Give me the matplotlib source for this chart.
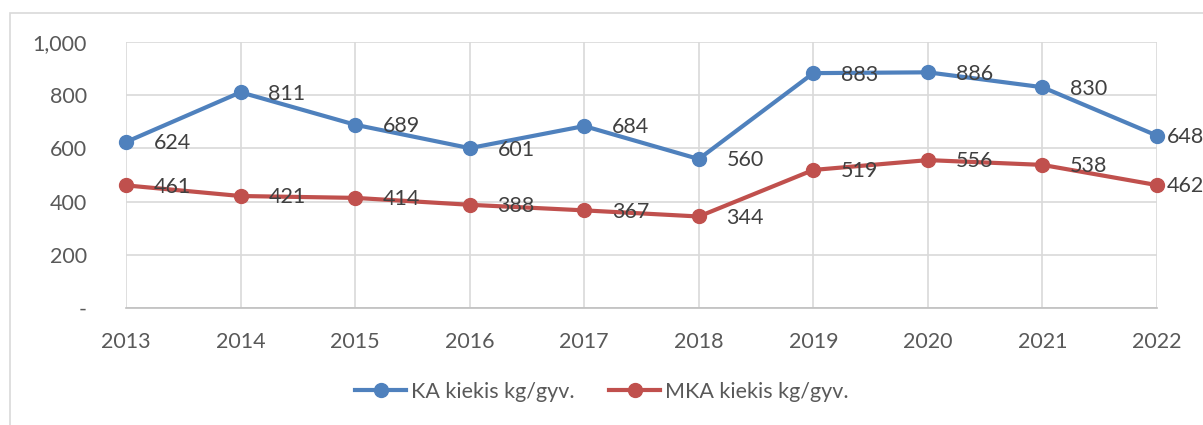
import matplotlib
matplotlib.use("Agg")
import matplotlib.pyplot as plt
from matplotlib.patches import Rectangle
from matplotlib.ticker import FuncFormatter

years = ["2013", "2014", "2015", "2016", "2017", "2018", "2019", "2020", "2021", "2022"]
ka = [624, 811, 689, 601, 684, 560, 883, 886, 830, 648]
mka = [461, 421, 414, 388, 367, 344, 519, 556, 538, 462]
labels = ["KA kiekis kg/gyv.", "MKA kiekis kg/gyv."]

BLUE = "#4f81bd"
RED = "#c0504d"
TXT = "#595959"
FS = 15.5
W, H = 1203, 425

plt.rcParams['font.family'] = ['Lato', 'DejaVu Sans']

fig = plt.figure(figsize=(W / 100, H / 100), dpi=100)
ax = fig.add_axes([126 / W, 1 - 308 / H, (1157 - 126) / W, (308 - 42) / H])

# chart border (runs off right/bottom edge like the source)
fig.patches.append(Rectangle((10 / W, -0.1), 1.2, 1 - 13 / H + 0.1, transform=fig.transFigure,
                             fill=False, edgecolor="#d9d9d9", lw=1.2, clip_on=False))

x = list(range(len(years)))
ax.plot(x, ka, color=BLUE, lw=3, marker="o", ms=10, label=labels[0], zorder=3, clip_on=False)
ax.plot(x, mka, color=RED, lw=3, marker="o", ms=10, label=labels[1], zorder=3, clip_on=False)

for series in (ka, mka):
    for i, v in enumerate(series):
        dx = 7 if i == len(series) - 1 else 20
        ax.annotate(f"{v}", (i, v), xytext=(dx, -1), textcoords="offset points",
                    ha="left", va="center", fontsize=FS, color="#404040", zorder=4,
                    annotation_clip=False)

ax.set_xlim(0, len(years) - 1)
ax.set_ylim(0, 1000)
ax.set_yticks(range(0, 1001, 200))
ax.yaxis.set_major_formatter(FuncFormatter(lambda v, p: "-" if v == 0 else f"{int(v):,}"))
ax.set_xticks(x)
ax.set_xticklabels(years)
ax.grid(True, color="#d9d9d9", lw=1.2)
ax.set_axisbelow(True)
for s in ("top", "right", "left"):
    ax.spines[s].set_visible(False)
ax.spines["bottom"].set_color("#bfbfbf")
ax.spines["bottom"].set_linewidth(1.2)
ax.tick_params(length=0, labelsize=FS, colors=TXT)
ax.tick_params(axis="x", pad=17)
ax.tick_params(axis="y", pad=28)

leg = fig.legend(loc="center", bbox_to_anchor=(0.5, 1 - 392 / H), ncol=2, frameon=False,
                 fontsize=FS, handlelength=2.4, columnspacing=1.6, handletextpad=0.2)
for t in leg.get_texts():
    t.set_color(TXT)

fig.savefig("out.png", dpi=100)
